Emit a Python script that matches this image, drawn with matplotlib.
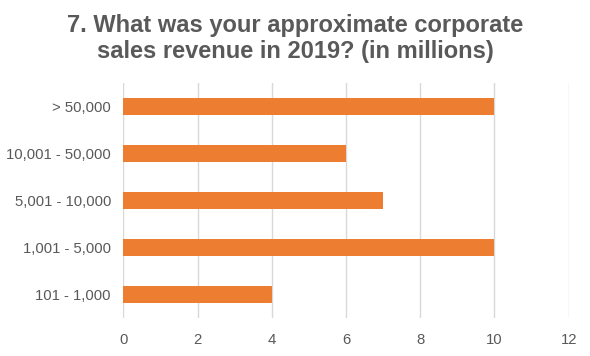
import matplotlib.pyplot as plt

categories = ['101 - 1,000', '1,001 - 5,000', '5,001 - 10,000', '10,001 - 50,000', '> 50,000']
counts = [4, 10, 7, 6, 10]
x_ticks = [0, 2, 4, 6, 8, 10, 12]

title = '7. What was your approximate corporate\nsales revenue in 2019? (in millions)'
text_color = '#595959'


def main():
    plt.rcParams['font.family'] = ['Liberation Sans', 'DejaVu Sans']
    fig = plt.figure(figsize=(5.9, 3.56), dpi=100)
    ax = fig.add_axes([0.2093, 0.108, 0.7545, 0.660])

    ax.barh(range(len(categories)), counts, height=0.36, color='#ED7D31', zorder=3)

    ax.set_xlim(0, 12)
    ax.set_ylim(-0.5, len(categories) - 0.5)
    ax.set_xticks(x_ticks)
    ax.set_yticks(range(len(categories)))
    ax.set_yticklabels(categories)
    ax.grid(axis='x', color='#D9D9D9', linewidth=1, zorder=0)
    for s in ax.spines.values():
        s.set_visible(False)
    ax.tick_params(axis='both', length=0, labelsize=10.7, colors=text_color)
    ax.tick_params(axis='y', pad=9)
    ax.tick_params(axis='x', pad=11)

    fig.text(0.5, 0.962, title, ha='center', va='top', fontsize=17,
             fontweight='bold', color=text_color, linespacing=1.22)

    fig.savefig('out.png', dpi=100)
    plt.close(fig)


if __name__ == '__main__':
    main()
